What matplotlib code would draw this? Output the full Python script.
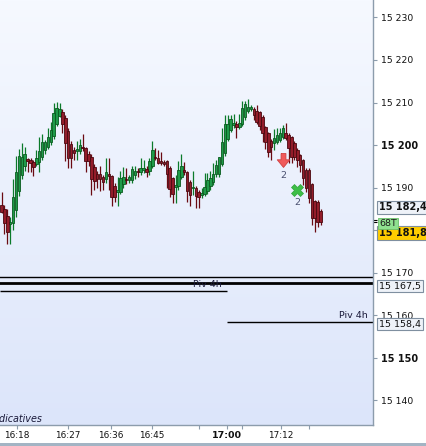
import matplotlib
matplotlib.use("Agg")
import matplotlib.pyplot as plt
import numpy as np
from matplotlib.path import Path
from matplotlib.colors import LinearSegmentedColormap
from matplotlib.patches import Rectangle

plt.rcParams['font.family'] = ['DejaVu Sans']

# bougies (open, high, low, close)
opens = [15186.0, 15185.0, 15183.3, 15181.5, 15181.7, 15184.7, 15189.2, 15193.0, 15195.0, 15196.6,
         15196.5, 15196.0, 15195.5, 15196.0, 15197.2, 15198.8, 15199.5, 15200.7, 15202.1, 15205.0,
         15206.8, 15207.8, 15206.3, 15203.3, 15200.2, 15198.8, 15198.6, 15198.6, 15199.4, 15199.3,
         15197.9, 15197.2, 15194.8, 15193.2, 15193.2, 15192.5, 15192.0, 15192.9, 15192.7, 15190.4,
         15189.0, 15189.0, 15190.8, 15191.9, 15191.7, 15191.7, 15193.0, 15193.8, 15193.6, 15194.2,
         15194.4, 15193.9, 15195.0, 15197.0, 15197.0, 15196.0, 15196.0, 15196.2, 15194.6, 15192.2,
         15190.2, 15190.4, 15192.5, 15194.2, 15193.7, 15191.3, 15189.8, 15189.9, 15189.0, 15188.3,
         15188.5, 15189.2, 15190.4, 15191.3, 15193.2, 15193.2, 15195.5, 15198.1, 15201.4, 15203.5,
         15204.8, 15204.9, 15204.2, 15204.9, 15206.6, 15208.0, 15208.5, 15208.5, 15208.0, 15207.7,
         15206.6, 15204.2, 15202.8, 15201.0, 15200.5, 15200.7, 15201.2, 15201.9, 15202.8, 15202.4,
         15201.9, 15200.5, 15198.8, 15197.6, 15196.5, 15194.1, 15194.1, 15190.8, 15186.8, 15186.6,
         15184.5]
highs = [15189.0, 15186.0, 15185.0, 15183.0, 15192.0, 15197.4, 15199.0, 15200.5, 15199.5, 15197.0,
         15197.0, 15196.5, 15198.8, 15201.9, 15202.6, 15201.2, 15204.0, 15205.4, 15209.9, 15210.1,
         15209.9, 15208.5, 15207.0, 15204.0, 15201.0, 15199.5, 15200.9, 15201.4, 15202.6, 15199.5,
         15198.5, 15197.8, 15195.5, 15194.0, 15195.0, 15193.0, 15197.0, 15197.0, 15193.0, 15191.0,
         15192.5, 15193.9, 15194.8, 15194.6, 15193.0, 15195.0, 15195.0, 15194.5, 15197.0, 15196.5,
         15195.0, 15197.0, 15200.9, 15199.3, 15198.8, 15198.3, 15196.5, 15196.5, 15195.0, 15192.5,
         15193.0, 15196.2, 15197.9, 15196.0, 15194.0, 15191.8, 15193.9, 15190.3, 15189.5, 15189.9,
         15193.4, 15193.4, 15193.9, 15195.8, 15196.5, 15197.2, 15204.0, 15207.1, 15207.1, 15207.1,
         15207.3, 15205.6, 15207.3, 15210.4, 15210.4, 15210.9, 15209.5, 15209.0, 15209.5, 15208.0,
         15207.0, 15204.5, 15203.0, 15201.5, 15203.8, 15204.0, 15204.0, 15204.7, 15205.2, 15202.8,
         15202.2, 15200.9, 15199.2, 15198.0, 15196.8, 15194.5, 15194.5, 15191.2, 15187.2, 15187.0,
         15185.0]
lows = [15184.0, 15179.0, 15176.8, 15176.8, 15180.0, 15183.0, 15188.0, 15192.0, 15194.0, 15193.7,
        15193.7, 15192.7, 15195.0, 15193.7, 15196.5, 15198.0, 15199.0, 15200.0, 15201.5, 15204.5,
        15206.5, 15202.8, 15196.2, 15194.6, 15194.6, 15196.5, 15196.5, 15198.0, 15198.5, 15193.7,
        15195.0, 15188.2, 15189.4, 15190.0, 15189.2, 15189.5, 15191.0, 15189.4, 15185.7, 15186.6,
        15185.7, 15188.5, 15190.0, 15190.8, 15191.0, 15191.0, 15192.0, 15192.5, 15193.0, 15193.5,
        15192.5, 15192.9, 15194.5, 15196.5, 15195.5, 15195.3, 15195.0, 15190.0, 15187.8, 15186.4,
        15186.4, 15189.5, 15192.0, 15193.0, 15186.6, 15185.7, 15188.2, 15185.2, 15185.2, 15187.5,
        15188.0, 15188.5, 15189.5, 15190.5, 15192.5, 15192.5, 15195.0, 15197.5, 15201.0, 15203.0,
        15204.0, 15201.7, 15203.8, 15204.5, 15206.0, 15207.5, 15208.0, 15205.9, 15205.0, 15203.5,
        15200.7, 15199.0, 15197.2, 15196.5, 15198.8, 15200.2, 15200.8, 15201.5, 15201.2, 15195.8,
        15195.8, 15196.5, 15194.8, 15193.7, 15190.6, 15189.0, 15186.5, 15181.2, 15179.5, 15180.7,
        15181.2]
closes = [15184.3, 15181.7, 15179.6, 15181.8, 15187.8, 15193.7, 15197.4, 15197.2, 15198.0, 15196.3,
          15195.8, 15194.8, 15197.0, 15198.6, 15200.7, 15200.7, 15201.9, 15203.5, 15207.5, 15208.7,
          15208.5, 15205.0, 15200.5, 15196.9, 15196.9, 15198.1, 15198.8, 15200.0, 15199.2, 15196.2,
          15196.2, 15192.0, 15191.5, 15192.0, 15192.0, 15191.3, 15193.7, 15192.7, 15187.8, 15187.8,
          15189.4, 15192.2, 15192.5, 15191.7, 15192.5, 15194.4, 15193.9, 15193.6, 15194.6, 15194.6,
          15193.7, 15196.2, 15198.8, 15196.9, 15195.8, 15195.8, 15195.5, 15193.2, 15189.7, 15188.5,
          15190.4, 15194.1, 15195.0, 15193.6, 15189.2, 15188.2, 15189.9, 15188.0, 15187.8, 15188.5,
          15190.1, 15191.8, 15192.2, 15193.2, 15195.3, 15197.2, 15200.7, 15204.9, 15204.9, 15206.1,
          15204.9, 15204.2, 15205.2, 15208.7, 15209.6, 15208.9, 15209.0, 15207.1, 15205.4, 15204.5,
          15202.8, 15200.7, 15198.4, 15199.5, 15201.6, 15202.4, 15202.8, 15204.0, 15201.6, 15199.3,
          15197.2, 15197.2, 15196.5, 15195.3, 15192.2, 15189.9, 15187.5, 15182.8, 15182.8, 15181.9,
          15181.8]

# heures sur l'axe (position en nombre de bougies)
time_pos = [5.3, 22.9, 37.8, 51.9, 68.1, 77.8, 82.9, 96.4, 106.0]
time_labels = ["16:18", "16:27", "16:36", "16:45", "", "17:00", "", "17:12", ""]

price_ticks = [15140, 15150, 15160, 15170, 15180, 15190, 15200, 15210, 15220, 15230]
price_labels = ["15 140", "15 150", "15 160", "15 170", "15 180", "15 190",
                "15 200", "15 210", "15 220", "15 230"]

# pivots 4h
pivot_old = 15165.6
pivot_new = 15158.4
pivot_switch = 77.8
level_lines = [15168.9, 15167.5]
last_prices = [15182.4, 15181.8]

# signaux
sell_idx, sell_price = 97, 15196.5
exit_idx, exit_price = 102, 15189.4

n = len(opens)
x = np.arange(n)
o = np.array(opens); h = np.array(highs); l = np.array(lows); c = np.array(closes)
up = c >= o

fig = plt.figure(figsize=(4.27, 4.46), dpi=100)
fig.patch.set_facecolor("white")
ax = fig.add_axes([0, 21 / 446, 373 / 427, 425 / 446])

xmin, xmax = -0.52, 128.1
ymin, ymax = 15134.2, 15234.1

# fond en dégradé
cmap = LinearSegmentedColormap.from_list("bg", ["#dce5fa", "#f6f9ff"])
grad = np.linspace(0, 1, 256).reshape(-1, 1)
ax.imshow(grad, extent=[xmin, xmax, ymin, ymax], origin="lower", aspect="auto",
          cmap=cmap, zorder=0)

# mèches
ax.vlines(x[up], l[up], h[up], color="#0b7a2a", lw=0.9, zorder=2)
ax.vlines(x[~up], l[~up], h[~up], color="#6a0a12", lw=0.9, zorder=2)
# corps
body = np.maximum(np.abs(c - o), 0.4)
ax.bar(x[up], body[up], bottom=np.minimum(o, c)[up], width=0.85,
       color="#1e9a48", edgecolor="#0a5a1e", lw=0.6, zorder=3)
ax.bar(x[~up], body[~up], bottom=np.minimum(o, c)[~up], width=0.85,
       color="#931c2a", edgecolor="#4a0810", lw=0.6, zorder=3)

# niveaux horizontaux
ax.axhline(level_lines[0], color="black", lw=1, zorder=2)
ax.axhline(level_lines[1], color="black", lw=2, zorder=2)
ax.hlines(pivot_old, xmin, pivot_switch, color="black", lw=1, zorder=2)
ax.hlines(pivot_new, pivot_switch, xmax, color="black", lw=1, zorder=2)
ax.text(pivot_switch - 2, pivot_old + 0.6, "Piv 4h", ha="right", va="bottom",
        fontsize=6.8, color="#1a1a3a", zorder=4)
ax.text(xmax - 1.8, pivot_new + 0.5, "Piv 4h", ha="right", va="bottom",
        fontsize=6.8, color="#1a1a3a", zorder=4)

# signaux
arrow = Path([(-0.35, 1), (0.35, 1), (0.35, 0.1), (0.9, 0.1), (0, -1),
              (-0.9, 0.1), (-0.35, 0.1), (-0.35, 1)])
ax.plot(sell_idx, sell_price, marker=arrow, markersize=10, color="#f05a5a",
        markeredgecolor="#d04040", markeredgewidth=0.6, zorder=5)
ax.plot(exit_idx, exit_price, marker="X", markersize=9, color="#3dbe47",
        markeredgecolor="#2fa33a", markeredgewidth=0.5, zorder=5)
ax.annotate("2", (sell_idx, sell_price), xytext=(0, -11), textcoords="offset points",
            ha="center", va="center", fontsize=6.8, color="#4a5070", zorder=5)
ax.annotate("2", (exit_idx, exit_price), xytext=(0, -9), textcoords="offset points",
            ha="center", va="center", fontsize=6.8, color="#4a5070", zorder=5)

ax.set_xlim(xmin, xmax)
ax.set_ylim(ymin, ymax)

# axes
for side in ["left", "top"]:
    ax.spines[side].set_visible(False)
for side in ["right", "bottom"]:
    ax.spines[side].set_color("#8c9cac")
    ax.spines[side].set_linewidth(1)

ax.yaxis.tick_right()
ax.set_yticks(price_ticks)
ax.set_yticklabels(price_labels)
ax.tick_params(axis="y", length=3, width=0.8, color="#8c9cac", pad=3,
               labelsize=6.7, labelcolor="#111111")
for t in ax.get_yticklabels():
    if t.get_text() in ("15 200", "15 150"):
        t.set_fontweight("bold")
        t.set_fontsize(7)

ax.set_xticks(time_pos)
ax.set_xticklabels(time_labels)
ax.tick_params(axis="x", length=3, width=0.8, color="#8c9cac", pad=1.5,
               labelsize=6.4, labelcolor="#111111")
for t in ax.get_xticklabels():
    if t.get_text() == "17:00":
        t.set_fontweight("bold")
        t.set_fontsize(6.8)

# marques des derniers prix
ax.hlines(last_prices, xmax, xmax + 1.4, color="black", lw=0.8, clip_on=False)

# étiquettes de prix à droite
def price_box(text, ypix, face, bold=False, size=6.8, xpix=379):
    fig.text(xpix / 427, 1 - ypix / 446, text, ha="left", va="center", fontsize=size,
             fontweight="bold" if bold else "normal", color="#111111", zorder=10,
             bbox=dict(boxstyle="square,pad=0.18", facecolor=face, edgecolor="#7f8fa0", lw=0.8))

price_box("15 182,4", 207.5, "#eef2f8", bold=True, size=7)
price_box("15 181,8", 233, "#ffcc00", bold=True, size=7)
fig.text(379 / 427, 1 - 223.5 / 446, "68T", ha="left", va="center", fontsize=6.8,
         color="#1a1a1a", zorder=11,
         bbox=dict(boxstyle="square,pad=0.15", facecolor="#8fe08f", edgecolor="#6cc06c", lw=0.6))
price_box("15 167,5", 286, "#eef2f8")
price_box("15 158,4", 324, "#eef2f8")

fig.text(-9 / 427, 1 - 419 / 446, "Indicatives", ha="left", va="center", fontsize=6.9,
         style="italic", color="#1a1a3a")

# bande grise en bas
fig.patches.append(Rectangle((0, 0), 1, 3 / 446, transform=fig.transFigure,
                             facecolor="#a3b4c4", edgecolor="none"))

plt.savefig("out.png", dpi=100)
